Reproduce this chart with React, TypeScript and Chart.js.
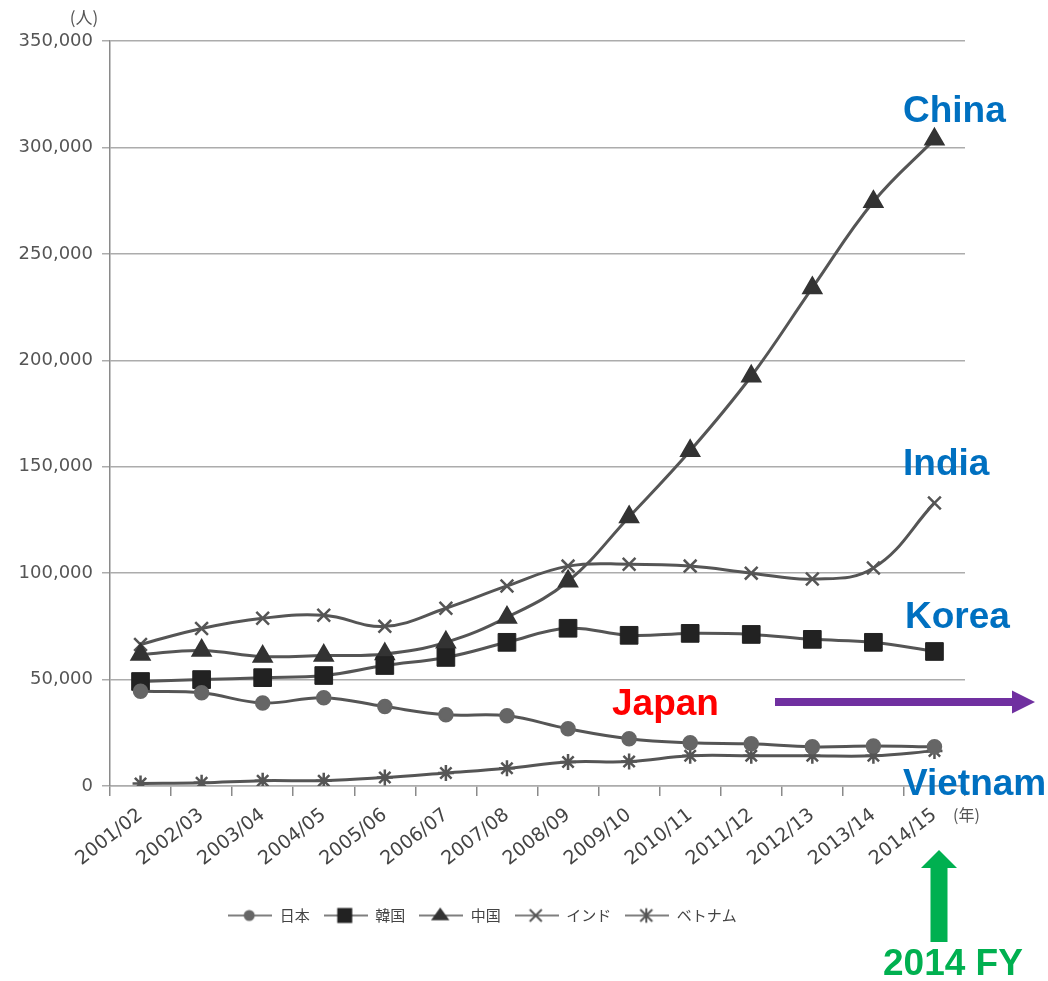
import React, { useEffect, useRef } from "react";
import { Chart, registerables } from "chart.js";

Chart.register(...registerables);

// Academic years (x axis)
const years = [
  "2001/02", "2002/03", "2003/04", "2004/05", "2005/06", "2006/07", "2007/08",
  "2008/09", "2009/10", "2010/11", "2011/12", "2012/13", "2013/14", "2014/15",
];

// Students studying in the US, by country of origin (persons)
const japan = [44500, 43800, 39000, 41500, 37300, 33500, 33000, 26900, 22200, 20300, 19800, 18400, 18800, 18400];
const korea = [49100, 50000, 50900, 51900, 56600, 60400, 67500, 74100, 70800, 71700, 71200, 68900, 67500, 63200];
const china = [61800, 63700, 60800, 61300, 62000, 67500, 79200, 96200, 126400, 157500, 192500, 234000, 274500, 303800];
const india = [66500, 74000, 78800, 80200, 75000, 83500, 94000, 103300, 104200, 103300, 100000, 97200, 102400, 133000];
const vietnam = [1200, 1500, 2500, 2500, 4000, 6100, 8300, 11300, 11500, 14200, 14200, 14200, 14200, 16500];

const seriesNames = ["日本", "韓国", "中国", "インド", "ベトナム"];

// y axis
const yMax = 350000;
const yStep = 50000;

const LINE = "#555555";
const GRID = "#acacac";
const TEXT = "#444444";
const NUM_FONT = "'DejaVu Sans', sans-serif";
const JP_FONT = "'Noto Sans CJK JP', sans-serif";
const CALLOUT_FONT = "bold 37px 'Liberation Sans', Arial, sans-serif";

type Marker = "circle" | "rect" | "triangle" | "crossRot" | "star";

function drawMarker(ctx: CanvasRenderingContext2D, kind: Marker, x: number, y: number, r: number, fill: string) {
  ctx.save();
  ctx.fillStyle = fill;
  ctx.strokeStyle = fill;
  ctx.lineWidth = 2;
  ctx.beginPath();
  if (kind === "circle") {
    ctx.arc(x, y, r, 0, Math.PI * 2);
    ctx.fill();
  } else if (kind === "rect") {
    ctx.rect(x - r, y - r, 2 * r, 2 * r);
    ctx.fill();
  } else if (kind === "triangle") {
    ctx.moveTo(x, y - r);
    ctx.lineTo(x + r * 1.15, y + r * 0.6);
    ctx.lineTo(x - r * 1.15, y + r * 0.6);
    ctx.closePath();
    ctx.fill();
  } else if (kind === "crossRot") {
    ctx.moveTo(x - r, y - r);
    ctx.lineTo(x + r, y + r);
    ctx.moveTo(x + r, y - r);
    ctx.lineTo(x - r, y + r);
    ctx.stroke();
  } else {
    ctx.moveTo(x - r, y - r);
    ctx.lineTo(x + r, y + r);
    ctx.moveTo(x + r, y - r);
    ctx.lineTo(x - r, y + r);
    ctx.moveTo(x, y - r * 1.2);
    ctx.lineTo(x, y + r * 1.2);
    ctx.stroke();
  }
  ctx.restore();
}

// Legend swatch: a short line with the series marker in its middle
function legendSwatch(kind: Marker, r: number, fill: string): HTMLCanvasElement {
  const c = document.createElement("canvas");
  c.width = 44;
  c.height = 18;
  const ctx = c.getContext("2d")!;
  ctx.strokeStyle = LINE;
  ctx.lineWidth = 1.5;
  ctx.beginPath();
  ctx.moveTo(0, 9);
  ctx.lineTo(44, 9);
  ctx.stroke();
  drawMarker(ctx, kind, 21, 9, r, fill);
  return c;
}

function arrowRight(ctx: CanvasRenderingContext2D, x0: number, x1: number, y: number, shaft: number, headLen: number, headH: number, color: string) {
  ctx.save();
  ctx.fillStyle = color;
  ctx.beginPath();
  ctx.moveTo(x0, y - shaft / 2);
  ctx.lineTo(x1 - headLen, y - shaft / 2);
  ctx.lineTo(x1 - headLen, y - headH / 2);
  ctx.lineTo(x1, y);
  ctx.lineTo(x1 - headLen, y + headH / 2);
  ctx.lineTo(x1 - headLen, y + shaft / 2);
  ctx.lineTo(x0, y + shaft / 2);
  ctx.closePath();
  ctx.fill();
  ctx.restore();
}

function arrowUp(ctx: CanvasRenderingContext2D, x: number, y0: number, y1: number, shaft: number, headLen: number, headW: number, color: string) {
  ctx.save();
  ctx.fillStyle = color;
  ctx.beginPath();
  ctx.moveTo(x - shaft / 2, y0);
  ctx.lineTo(x - shaft / 2, y1 + headLen);
  ctx.lineTo(x - headW / 2, y1 + headLen);
  ctx.lineTo(x, y1);
  ctx.lineTo(x + headW / 2, y1 + headLen);
  ctx.lineTo(x + shaft / 2, y1 + headLen);
  ctx.lineTo(x + shaft / 2, y0);
  ctx.closePath();
  ctx.fill();
  ctx.restore();
}

// Unit labels, country call-outs and arrows drawn over the chart
const calloutPlugin = {
  id: "callouts",
  afterDraw(chart: Chart) {
    const ctx = chart.ctx;
    ctx.save();
    ctx.fillStyle = "#555";
    ctx.font = `17px ${JP_FONT}`;
    ctx.textAlign = "center";
    ctx.textBaseline = "middle";
    ctx.fillText("(人)", 84, 18);
    ctx.font = `16px ${JP_FONT}`;
    ctx.textAlign = "left";
    ctx.fillText("(年)", 953, 815);

    ctx.font = CALLOUT_FONT;
    ctx.textBaseline = "alphabetic";
    ctx.textAlign = "left";
    ctx.fillStyle = "#0070C0";
    ctx.fillText("China", 903, 122);
    ctx.fillText("India", 903, 475);
    ctx.fillText("Korea", 905, 628);
    ctx.fillText("Vietnam", 903, 795);
    ctx.fillStyle = "#FF0000";
    ctx.fillText("Japan", 612, 715);
    ctx.fillStyle = "#00B050";
    ctx.fillText("2014 FY", 883, 975);
    ctx.restore();

    arrowRight(ctx, 775, 1035, 702, 8, 23, 23, "#7030A0");
    arrowUp(ctx, 939, 942, 850, 17, 18, 36, "#00B050");
  },
};

export default function App() {
  const ref = useRef<HTMLCanvasElement>(null);

  useEffect(() => {
    if (!ref.current) return;
    const swatches = [
      legendSwatch("circle", 5.5, "#666"),
      legendSwatch("rect", 7.5, "#222"),
      legendSwatch("triangle", 8, "#333"),
      legendSwatch("crossRot", 6, LINE),
      legendSwatch("star", 6, LINE),
    ];

    const base = {
      borderColor: LINE,
      borderWidth: 3,
      tension: 0.4,
      fill: false,
      pointBorderWidth: 2.5,
    };

    const chart = new Chart(ref.current, {
      type: "line",
      data: {
        labels: years,
        datasets: [
          { ...base, label: seriesNames[0], data: japan, pointStyle: "circle", pointRadius: 6.5, pointBackgroundColor: "#666", pointBorderColor: "#666" },
          { ...base, label: seriesNames[1], data: korea, pointStyle: "rect", pointRadius: 12.5, pointBackgroundColor: "#222", pointBorderColor: "#222", pointBorderWidth: 1 },
          { ...base, label: seriesNames[2], data: china, pointStyle: "triangle", pointRadius: 10, pointBackgroundColor: "#333", pointBorderColor: "#333" },
          { ...base, label: seriesNames[3], data: india, pointStyle: "crossRot", pointRadius: 9, pointBackgroundColor: LINE, pointBorderColor: LINE },
          { ...base, label: seriesNames[4], data: vietnam, pointStyle: "star", pointRadius: 8, pointBackgroundColor: LINE, pointBorderColor: LINE },
        ],
      },
      options: {
        responsive: false,
        animation: false,
        layout: { padding: { left: 0, top: 41, right: 83, bottom: 48 } },
        plugins: {
          tooltip: { enabled: false },
          legend: {
            position: "bottom",
            labels: {
              usePointStyle: true,
              pointStyleWidth: 44,
              padding: 14,
              color: TEXT,
              font: { family: JP_FONT, size: 15 },
              generateLabels: () =>
                seriesNames.map((name, i) => ({
                  text: name,
                  pointStyle: swatches[i] as any,
                  fillStyle: "transparent",
                  strokeStyle: "transparent",
                  lineWidth: 0,
                  hidden: false,
                  datasetIndex: i,
                  fontColor: TEXT,
                })),
            },
          },
        },
        scales: {
          x: {
            type: "category",
            offset: true,
            afterFit: (scale: any) => {
              scale.height = 108;
            },
            border: { display: true, color: GRID, width: 1.5 },
            grid: { display: true, offset: true, drawOnChartArea: false, drawTicks: true, tickLength: 10, color: "#8a8a8a", lineWidth: 1.5 },
            ticks: {
              autoSkip: false,
              minRotation: 38,
              maxRotation: 38,
              padding: 8,
              color: TEXT,
              font: { family: NUM_FONT, size: 19 },
            },
          },
          y: {
            min: 0,
            max: yMax,
            afterFit: (scale: any) => {
              scale.width = 110;
            },
            border: { display: true, color: "#8a8a8a", width: 1.5 },
            grid: { color: GRID, lineWidth: 1.5, drawTicks: true, tickLength: 8 },
            ticks: {
              stepSize: yStep,
              padding: 9,
              color: "#555",
              font: { family: NUM_FONT, size: 18 },
              callback: (v: any) => Number(v).toLocaleString("en-US"),
            },
          },
        },
      },
      plugins: [calloutPlugin],
    });
    return () => chart.destroy();
  }, []);

  return (
    <div style={{ position: "fixed", left: 0, top: 0, width: 1048, height: 981, background: "#fff" }}>
      <canvas ref={ref} width={1048} height={981} style={{ display: "block" }} />
    </div>
  );
}
